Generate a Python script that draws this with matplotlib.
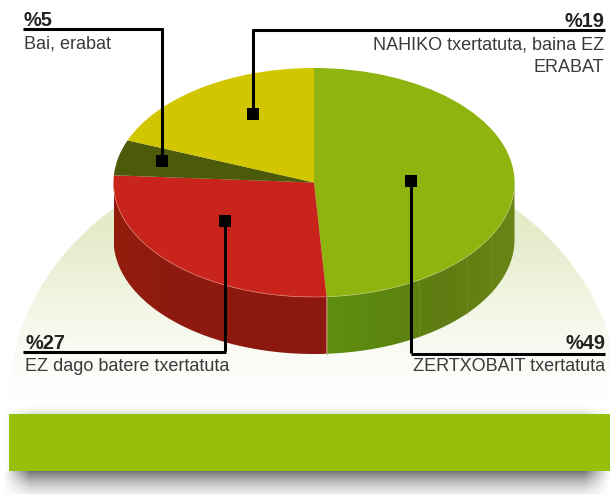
import numpy as np
import matplotlib
matplotlib.use("Agg")
import matplotlib.pyplot as plt
from matplotlib.colors import LinearSegmentedColormap
from matplotlib.patches import Ellipse, Polygon
from matplotlib.transforms import Affine2D

# data, clockwise from 12 o'clock
values = [49, 27, 5, 19]
pct_labels = ["%49", "%27", "%5", "%19"]
names = ["ZERTXOBAIT txertatuta", "EZ dago batere txertatuta", "Bai, erabat",
         "NAHIKO txertatuta, baina EZ\nERABAT"]
top_colors = ["#8fb40f", "#c9241c", "#4c5a0c", "#d2c600"]
side_stops = [[(0.0, "#5f8f10"), (0.25, "#5c880f"), (0.6, "#5f7c12"), (1.0, "#6a8416")],
              [(0.0, "#8c1810"), (0.75, "#8e1a10"), (1.0, "#941c0c")]]

W, H = 610, 494
cx, cy, rx, ry, depth = 314, 182.5, 200.5, 114.5, 57

plt.rcParams["font.family"] = ["Liberation Sans", "DejaVu Sans"]
fig = plt.figure(figsize=(W / 100, H / 100), dpi=100)
ax = fig.add_axes([0, 0, 1, 1])
ax.set_xlim(0, W)
ax.set_ylim(H, 0)
ax.axis("off")


def grad(extent, cmap, vertical=True, zorder=1, clip=None):
    arr = np.linspace(0, 1, 256).reshape(-1, 1) if vertical else np.linspace(0, 1, 256).reshape(1, -1)
    im = ax.imshow(arr, extent=extent, cmap=cmap, vmin=0, vmax=1, aspect="auto", zorder=zorder,
                   interpolation="bilinear")
    if clip is not None:
        im.set_clip_path(clip)
    return im


# pale dome behind the pie
dome_cmap = LinearSegmentedColormap.from_list("dome", [(0, "#e3ebc8"), (0.33, "#e3ebc8"), (0.64, "#f3f6e6"),
                                                       (0.81, "#fafbf5"), (1, "#ffffff")])
dome = Ellipse((cx, 400), 610, 508, fc="none", ec="none", zorder=0)
ax.add_patch(dome)
grad((0, W, 400, 146), dome_cmap, clip=dome)

# shadow round the bar
xs = np.arange(W) + 0.5
ys = np.arange(400, H) + 0.5
fx = np.clip((xs - 4) / 26, 0, 1) * np.clip((610 - xs) / 26, 0, 1)
fy = np.where(ys > 471, 0.08 + 0.47 * np.clip((494 - ys) / 23, 0, 1) ** 1.4, np.clip((ys - 404) / 10, 0, 1) ** 2 * 0.12)
shadow = 1 - np.outer(fy, fx)
ax.imshow(shadow, extent=(0, W, H, 400), cmap="gray", vmin=0, vmax=1, aspect="auto", zorder=1)
ax.fill_between([9, 610], 414, 471, color="#97c00d", lw=0, zorder=2)

# side wall of the pie, from the slice values
edges = np.cumsum([0] + values) / sum(values) * 2 * np.pi
for i in range(2):
    t0 = max(edges[i], np.pi / 2)
    t1 = min(edges[i + 1], 3 * np.pi / 2)
    t = np.linspace(t0, t1, 120)
    x = cx + rx * np.sin(t)
    y = cy - ry * np.cos(t)
    poly = Polygon(np.r_[np.c_[x, y], np.c_[x[::-1], y[::-1] + depth]], fc="none", ec="none", zorder=3)
    ax.add_patch(poly)
    stops = side_stops[i]
    cmap = LinearSegmentedColormap.from_list("side%d" % i, stops)
    if i == 0:
        extent = (x.min(), x.max(), H, 0)
    else:
        extent = (x.max(), x.min(), H, 0)
    grad(extent, cmap, vertical=False, zorder=3, clip=poly)

# faint seams in the green wall
for sx in [419, 467, 492]:
    s = np.arcsin((sx - cx) / rx)
    yy = cy + ry * np.cos(s)
    ax.plot([sx, sx], [yy, yy + depth], color="#7f9a30", lw=0.5, alpha=0.7, zorder=4)
ax.plot([cx + rx * np.sin(edges[1])] * 2, [cy - ry * np.cos(edges[1]), cy - ry * np.cos(edges[1]) + depth],
        color="#a09a40", lw=0.6, zorder=4)

# top face
wedges, _ = ax.pie(values, colors=top_colors, startangle=-90, center=(0, 0), radius=1)
T = Affine2D().scale(rx, ry).translate(cx, cy) + ax.transData
for w in wedges:
    w.set_transform(T)
    w.set_zorder(5)
    w.set_linewidth(0)
ax.set_xlim(0, W)
ax.set_ylim(H, 0)
ax.axis("off")

# light rim on the front edge
t = np.linspace(np.pi / 2, 3 * np.pi / 2, 200)
mid = t < edges[1]
ax.plot((cx + rx * np.sin(t))[mid], (cy - ry * np.cos(t))[mid], color="#b4c96a", lw=0.5, zorder=6)
ax.plot((cx + rx * np.sin(t))[~mid], (cy - ry * np.cos(t))[~mid], color="#e07c6c", lw=0.5, zorder=6)

# leader lines: (x0, x1, y of rule, end of stem, square)
leaders = [(411, 605, 353.7, 411.3, 181), (23, 226, 352.3, 224.8, 221), (23, 163, 29, 161.8, 161),
           (252, 605, 30, 253.4, 114)]
for x0, x1, ly, sx, sy in leaders:
    ax.plot([x0, x1], [ly, ly], color="k", lw=2.2, solid_capstyle="butt", zorder=7)
    ax.plot([sx, sx], [ly - 1, sy], color="k", lw=2.2, solid_capstyle="butt", zorder=7)
    ax.fill_between([sx - 6, sx + 6], sy - 6, sy + 6, color="k", lw=0, zorder=8)

fs = 13
fb = 14.4
pct_col = "#222222"
name_col = "#3a3a3a"
ax.text(605, 349, pct_labels[0], ha="right", va="baseline", fontsize=fb, fontweight="bold", color=pct_col, zorder=9)
ax.text(605, 371, names[0], ha="right", va="baseline", fontsize=fs, color=name_col, zorder=9)
ax.text(25, 349, pct_labels[1], ha="left", va="baseline", fontsize=fb, fontweight="bold", color=pct_col, zorder=9)
ax.text(25, 371, names[1], ha="left", va="baseline", fontsize=fs, color=name_col, zorder=9)
ax.text(24, 26, pct_labels[2], ha="left", va="baseline", fontsize=fb, fontweight="bold", color=pct_col, zorder=9)
ax.text(24, 48.7, names[2], ha="left", va="baseline", fontsize=fs, color=name_col, zorder=9)
ax.text(604, 27, pct_labels[3], ha="right", va="baseline", fontsize=fb, fontweight="bold", color=pct_col, zorder=9)
ax.text(604, 49, names[3].split("\n")[0], ha="right", va="baseline", fontsize=fs, color=name_col, zorder=9)
ax.text(604, 71.7, names[3].split("\n")[1], ha="right", va="baseline", fontsize=fs, color=name_col, zorder=9)

fig.savefig("out.png", dpi=100)
